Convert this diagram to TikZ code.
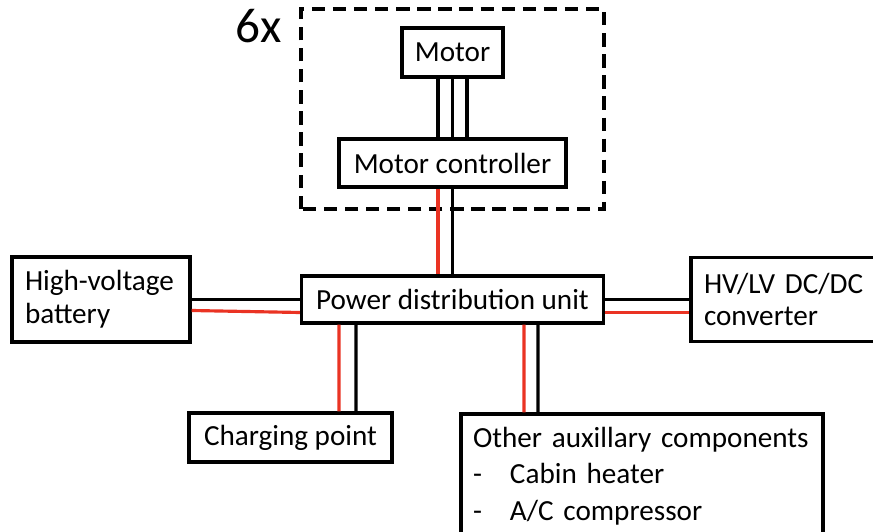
\documentclass[tikz,border=0pt]{standalone}
\usepackage{fontspec}
\setmainfont{Carlito}
\definecolor{hvred}{RGB}{234,51,35}

\begin{document}
\begin{tikzpicture}[
  box/.style={draw,line width=1.8pt,inner sep=0pt,font=\fontsize{16.6}{18.7}\selectfont},
  lv/.style={line width=1.8pt},
  hv/.style={line width=1.8pt,color=hvred}]
  \useasboundingbox (0,0) rectangle (17.46,10.62);
  \draw[line width=1.8pt,dash pattern=on 7.6pt off 4.4pt] (6.02,6.44) rectangle (12.08,10.44);
  \node[anchor=base west,inner sep=0pt,font=\fontsize{28}{32}\selectfont] (count) at (4.70,9.76) {6x};
  \node[box,minimum width=2.02cm,minimum height=0.98cm] (motor) at (9.05,9.57) {Motor};
  \node[box,minimum width=4.54cm,minimum height=0.96cm] (ctrl) at (9.05,7.36) {Motor controller};
  \node[box,minimum width=6.04cm,minimum height=0.94cm] (pdu) at (9.05,4.63) {Power distribution unit};
  \node[box,minimum width=3.56cm,minimum height=1.70cm,text width=3.04cm,align=left] (bat) at (2.02,4.63) {High-voltage\\battery};
  \node[box,minimum width=3.78cm,minimum height=1.68cm,text width=3.26cm,align=left] (conv) at (15.71,4.63) {HV/LV DC/DC\\converter};
  \node[box,minimum width=4.06cm,minimum height=0.98cm] (chg) at (5.81,1.87) {Charging point};
  \node[box,minimum width=7.24cm,minimum height=2.48cm,text width=6.76cm,align=left,
    font=\fontsize{16.6}{20.7}\selectfont] (aux) at (12.84,1.10)
    {Other auxillary components\\\makebox[0.74cm][l]{-}Cabin heater\\\makebox[0.74cm][l]{-}A/C compressor};
  % motor phases
  \draw[lv] ([xshift=-0.29cm]motor.south) -- ([xshift=-0.29cm]ctrl.north);
  \draw[lv] (motor.south) -- (ctrl.north);
  \draw[lv] ([xshift=0.29cm]motor.south) -- ([xshift=0.29cm]ctrl.north);
  % dc links
  \draw[hv] ([xshift=-0.29cm]ctrl.south) -- ([xshift=-0.29cm]pdu.north);
  \draw[lv] (ctrl.south) -- (pdu.north);
  \draw[lv] (bat.east) -- (pdu.west);
  \draw[hv] ([yshift=-0.22cm]bat.east) -- ([yshift=-0.26cm]pdu.west);
  \draw[lv] (pdu.east) -- (conv.west);
  \draw[hv] ([yshift=-0.26cm]pdu.east) -- ([yshift=-0.26cm]conv.west);
  \draw[hv] ([xshift=-2.27cm]pdu.south) -- ([xshift=0.97cm]chg.north);
  \draw[lv] ([xshift=-1.93cm]pdu.south) -- ([xshift=1.31cm]chg.north);
  \draw[hv] ([xshift=1.43cm]pdu.south) -- ([xshift=-2.36cm]aux.north);
  \draw[lv] ([xshift=1.71cm]pdu.south) -- ([xshift=-2.08cm]aux.north);
\end{tikzpicture}
\end{document}
